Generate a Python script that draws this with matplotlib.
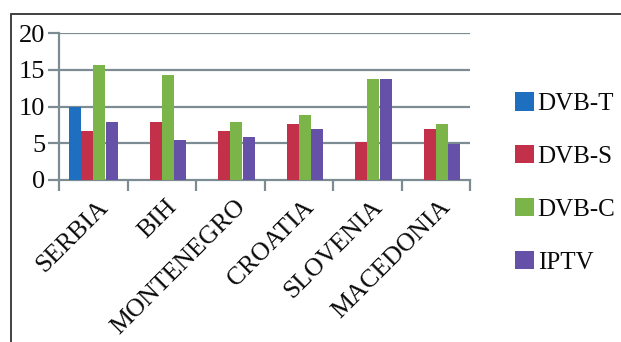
import matplotlib
matplotlib.use("Agg")
import matplotlib.pyplot as plt
import numpy as np
from matplotlib.patches import Rectangle

countries = ["SERBIA", "BIH", "MONTENEGRO", "CROATIA", "SLOVENIA", "MACEDONIA"]
series_names = ["DVB-T", "DVB-S", "DVB-C", "IPTV"]
dvb_t = [10.0, 0, 0, 0, 0, 0]
dvb_s = [6.7, 7.9, 6.7, 7.6, 5.2, 7.0]
dvb_c = [15.6, 14.3, 7.9, 8.9, 13.7, 7.6]
iptv = [7.9, 5.5, 5.9, 7.0, 13.7, 4.9]
yticks = [0, 5, 10, 15, 20]

colors = ["#1f6fc0", "#c3304a", "#7bb549", "#6651a8"]
grid_color = "#7d8b92"
text_color = "#0a0a0a"

W, H = 621, 342
plt.rcParams["font.family"] = ["Liberation Serif", "DejaVu Serif"]
fig = plt.figure(figsize=(W / 100, H / 100), dpi=100)

# outer frame
fig.patches.append(Rectangle((11 / W, -0.1), 1.2, (H - 14) / H + 0.1,
                             transform=fig.transFigure, fill=False,
                             edgecolor="#333333", linewidth=1.3))

ax = fig.add_axes([59 / W, (H - 180) / H, (470 - 59) / W, (180 - 33) / H])

x = np.arange(len(countries))
n = len(series_names)
group = 0.72
bw = group / n
for i, (vals, name) in enumerate(zip([dvb_t, dvb_s, dvb_c, iptv], series_names)):
    ax.bar(x - group / 2 + bw * (i + 0.5), vals, width=bw * 0.98,
           color=colors[i], label=name, zorder=3)

ax.set_xlim(-0.5, len(countries) - 0.5)
ax.set_ylim(0, 20)
ax.set_yticks(yticks)
ax.set_yticklabels([str(v) for v in yticks], fontsize=19, color=text_color)
for v in yticks[1:]:
    ax.axhline(v, color=grid_color, linewidth=1.6, zorder=1)

for s in ["top", "right"]:
    ax.spines[s].set_visible(False)
for s in ["left", "bottom"]:
    ax.spines[s].set_color(grid_color)
    ax.spines[s].set_linewidth(1.6)

ax.set_xticks(np.arange(len(countries) + 1) - 0.5)
ax.set_xticklabels([])
ax.tick_params(axis="x", length=8, width=1.6, color=grid_color, direction="out")
ax.tick_params(axis="y", length=8, width=1.6, color=grid_color, pad=2)

for xi, name in zip(x, countries):
    ax.text(xi + 0.06, -2.2, name, rotation=45, ha="right", va="top",
            rotation_mode="anchor", fontsize=18.5, color=text_color)

ax.legend(loc="center left", bbox_to_anchor=(1.055, -0.02), frameon=False,
          handlelength=0.75, handleheight=0.75,
          handletextpad=0.15, labelspacing=1.2, labelcolor=text_color,
          prop={"size": 18})

fig.savefig("out.png", dpi=100)
